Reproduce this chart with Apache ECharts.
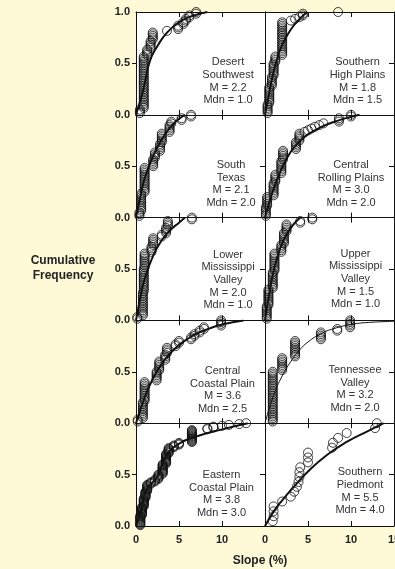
<!DOCTYPE html>
<html>
<head>
<meta charset="utf-8">
<script src="https://cdn.jsdelivr.net/npm/echarts@6/dist/echarts.min.js"></script>
<style>
html, body { margin: 0; padding: 0; background: #fef9d7; }
#main { width: 395px; height: 569px; }
</style>
</head>
<body>
<div id="main"></div>
<script>
// panel text
var labelLines = [
  ['Desert', 'Southwest'], ['Southern', 'High Plains'],
  ['South', 'Texas'], ['Central', 'Rolling Plains'],
  ['Lower', 'Mississippi', 'Valley'], ['Upper', 'Mississippi', 'Valley'],
  ['Central', 'Coastal Plain'], ['Tennessee', 'Valley'],
  ['Eastern', 'Coastal Plain'], ['Southern', 'Piedmont']
];
var meanSlope = ['2.2', '1.8', '2.1', '3.0', '2.0', '1.5', '3.6', '3.2', '3.8', '5.5'];
var medianSlope = ['1.0', '1.5', '2.0', '2.0', '1.0', '1.0', '2.5', '2.0', '3.0', '4.0'];

// observed slopes as [slope %, number of sites]
var desertSW = [[0.45,3],[0.9,31],[1.3,4],[1.7,5],[1.95,5],[3.6,1],[4.9,3],[5.5,2],[5.8,2],[6.2,2],[7.0,2]];
var southernHP = [[0.3,6],[0.5,10],[0.8,6],[1.0,8],[1.2,4],[2.0,20],[3.0,1],[3.5,1],[4.0,1],[4.4,2],[8.5,1]];
var southTexas = [[0.4,3],[0.6,11],[1.0,15],[2.0,5],[2.2,4],[2.8,5],[3.0,6],[3.9,5],[4.1,2],[5.3,2],[6.4,2]];
var centralRP = [[0.1,6],[0.25,6],[1.0,8],[1.2,5],[1.9,8],[2.1,6],[3.6,5],[4.0,5],[4.6,1],[5.0,1],[5.4,1],[5.8,1],[6.3,1],[6.8,1],[8.6,3],[10.0,2]];
var lowerMV = [[0.15,2],[0.8,14],[0.9,14],[1.0,9],[1.8,4],[2.0,5],[3.0,2],[3.5,4],[3.7,4],[6.5,2]];
var upperMV = [[0.2,8],[0.4,10],[0.9,10],[1.1,11],[1.9,5],[2.2,7],[2.5,5],[4.1,2],[5.5,2]];
var centralCP = [[0.2,2],[0.8,10],[1.0,12],[2.4,6],[2.7,6],[3.4,4],[3.6,4],[4.6,2],[5.0,2],[6.4,2],[6.8,2],[7.4,2],[7.9,2],[9.9,4]];
var tennesseeV = [[0.9,30],[2.0,8],[3.5,10],[6.5,5],[8.4,2],[9.9,5]];
var easternCP = [[0.5,12],[0.7,10],[0.9,10],[1.1,8],[1.3,8],[1.7,3],[2.2,3],[2.6,6],[3.1,12],[3.5,12],[3.8,7],[4.4,3],[5.0,3],[6.5,15],[8.3,2],[9.0,2],[10.0,1],[10.8,1],[12.0,1],[12.8,1]];
var southernP = [[0.9,1],[1.0,3],[2.0,1],[3.0,1],[3.4,1],[3.7,1],[3.9,1],[4.0,2],[4.1,1],[5.0,3],[7.8,1],[7.9,1],[8.5,1],[9.5,1],[12.8,1],[13.0,1]];

// fitted curves, [slope, cumulative frequency]
var fitDesertSW = [[0,0],[0.65,0.18],[1.0,0.3],[1.6,0.52],[2.5,0.67],[3.6,0.8],[5,0.9],[6.5,0.96],[8.3,1.0]];
var fitSouthernHP = [[0,0],[0.5,0.22],[1,0.42],[1.5,0.57],[2,0.68],[3,0.83],[4,0.93],[4.9,1.0]];
var fitSouthTexas = [[0,0],[0.5,0.2],[1,0.38],[2,0.6],[3,0.76],[4,0.88],[5,0.96],[5.7,1.0]];
var fitCentralRP = [[0,0],[0.5,0.15],[1,0.28],[2,0.49],[3,0.64],[4,0.74],[5,0.81],[6.5,0.88],[8,0.93],[9.5,0.97],[11,1.0]];
var fitLowerMV = [[0,0],[0.5,0.22],[1,0.4],[2,0.63],[3,0.78],[4,0.88],[5,0.95],[5.7,1.0]];
var fitUpperMV = [[0,0],[0.5,0.26],[1,0.48],[1.5,0.63],[2,0.75],[3,0.9],[4.1,1.0]];
var fitCentralCP = [[0,0],[1,0.25],[2,0.44],[3,0.58],[4,0.68],[5,0.76],[6,0.82],[7,0.87],[8.5,0.92],[10,0.96],[12.5,1.0]];
var fitTennesseeV = [[0,0],[1,0.27],[2,0.46],[3,0.6],[4,0.71],[5,0.79],[6.5,0.87],[8,0.92],[10,0.96],[12,0.98],[15,0.99]];
var fitEasternCP = [[0,0],[0.6,0.15],[1.2,0.35],[2.5,0.48],[3.5,0.68],[5,0.8],[7,0.87],[10,0.94],[13,1.0]];
var fitSouthernP = [[0,0],[1.0,0.14],[2,0.25],[3.35,0.38],[5.0,0.53],[7.2,0.69],[9.55,0.82],[11.9,0.92],[13.8,1.0]];

var xLabelsLeft = [0, 5, 10];
var xLabelsRight = [0, 5, 10, 15];
var yLabelsTop = [0, 0.5, 1.0];
var yLabels = [0, 0.5];

var samples = [desertSW, southernHP, southTexas, centralRP, lowerMV, upperMV, centralCP, tennesseeV, easternCP, southernP];
var fits = [fitDesertSW, fitSouthernHP, fitSouthTexas, fitCentralRP, fitLowerMV, fitUpperMV, fitCentralCP, fitTennesseeV, fitEasternCP, fitSouthernP];

// layout
var colLeft = [136, 265];
var rowTop = 12, rowH = 102.8, colW = 129;
var textX = [228, 357.5, 231, 351, 228, 355.5, 222.5, 355, 221.5, 360];
var textTop = [56, 56, 158.7, 158.7, 248.5, 247.5, 364.7, 363.7, 468.7, 466];

function ecdf(counts) {
  var total = 0, cum = 0, pts = [];
  counts.forEach(function (c) { total += c[1]; });
  counts.forEach(function (c) {
    for (var j = 0; j < c[1]; j++) {
      cum++;
      pts.push([c[0], cum / total]);
    }
  });
  return pts;
}

var font = 'Liberation Sans, Arial, sans-serif';
var grids = [], xAxes = [], yAxes = [], series = [], graphics = [];
var frame = { show: true, onZero: false, lineStyle: { color: '#111', width: 1 } };

for (var i = 0; i < 10; i++) {
  var col = i % 2, row = Math.floor(i / 2);
  grids.push({
    left: colLeft[col], top: rowTop + row * rowH, width: colW, height: rowH,
    show: true, backgroundColor: '#ffffff', borderWidth: 0,
    containLabel: false, outerBoundsMode: 'none'
  });
  xAxes.push({
    gridIndex: i, type: 'value', min: 0, max: 15, interval: 5, position: 'bottom',
    axisLine: frame,
    axisTick: { show: true, inside: true, length: 5, customValues: [5, 10], lineStyle: { color: '#111' } },
    axisLabel: {
      show: row === 4, customValues: col === 0 ? xLabelsLeft : xLabelsRight,
      fontWeight: 'bold', fontSize: 11, color: '#222', margin: 8, fontFamily: font
    },
    splitLine: { show: false }
  });
  xAxes.push({
    gridIndex: i, type: 'value', min: 0, max: 15, interval: 5, position: 'top',
    axisLine: frame,
    axisTick: { show: true, inside: true, length: 5, customValues: [5, 10], lineStyle: { color: '#111' } },
    axisLabel: { show: false }, splitLine: { show: false }
  });
  yAxes.push({
    gridIndex: i, type: 'value', min: 0, max: 1, interval: 0.5, position: 'left',
    axisLine: frame,
    axisTick: { show: true, inside: false, length: 4, customValues: [0.5], lineStyle: { color: '#111' } },
    axisLabel: {
      show: col === 0, customValues: row === 0 ? yLabelsTop : yLabels,
      formatter: function (v) { return v.toFixed(1); },
      fontWeight: 'bold', fontSize: 11, color: '#222', margin: 6, fontFamily: font
    },
    splitLine: { show: false }
  });
  yAxes.push({
    gridIndex: i, type: 'value', min: 0, max: 1, interval: 0.5, position: 'right',
    axisLine: frame,
    axisTick: { show: true, inside: true, length: 5, customValues: [0.5], lineStyle: { color: '#111' } },
    axisLabel: { show: false }, splitLine: { show: false }
  });

  series.push({
    type: 'scatter', xAxisIndex: 2 * i, yAxisIndex: 2 * i,
    data: ecdf(samples[i]), symbol: 'circle', symbolSize: 9,
    itemStyle: { color: 'rgba(0,0,0,0)', borderColor: '#111', borderWidth: 1 },
    silent: true, z: 2
  });
  series.push({
    type: 'line', xAxisIndex: 2 * i, yAxisIndex: 2 * i,
    data: fits[i], smooth: true, showSymbol: false, symbol: 'none',
    lineStyle: { color: '#111', width: i === 7 ? 1 : 2 },
    silent: true, z: 3
  });

  graphics.push({
    type: 'text', x: textX[i], y: textTop[i], z: 10,
    style: {
      text: labelLines[i].concat(['M = ' + meanSlope[i], 'Mdn = ' + medianSlope[i]]).join('\n'),
      font: '11px ' + font, fill: '#333', textAlign: 'center', textVerticalAlign: 'top', lineHeight: 12.6
    }
  });
}

graphics.push({
  type: 'text', x: 63, y: 268,
  style: { text: 'Cumulative\nFrequency', font: 'bold 12px ' + font, fill: '#222', textAlign: 'center', textVerticalAlign: 'middle', lineHeight: 15 }
});
graphics.push({
  type: 'text', x: 260, y: 561,
  style: { text: 'Slope (%)', font: 'bold 12px ' + font, fill: '#222', textAlign: 'center', textVerticalAlign: 'middle' }
});

var myChart = echarts.init(document.getElementById('main'));
myChart.setOption({
  backgroundColor: '#fef9d7',
  animation: false,
  grid: grids,
  xAxis: xAxes,
  yAxis: yAxes,
  series: series,
  graphic: graphics
});
</script>
</body>
</html>
